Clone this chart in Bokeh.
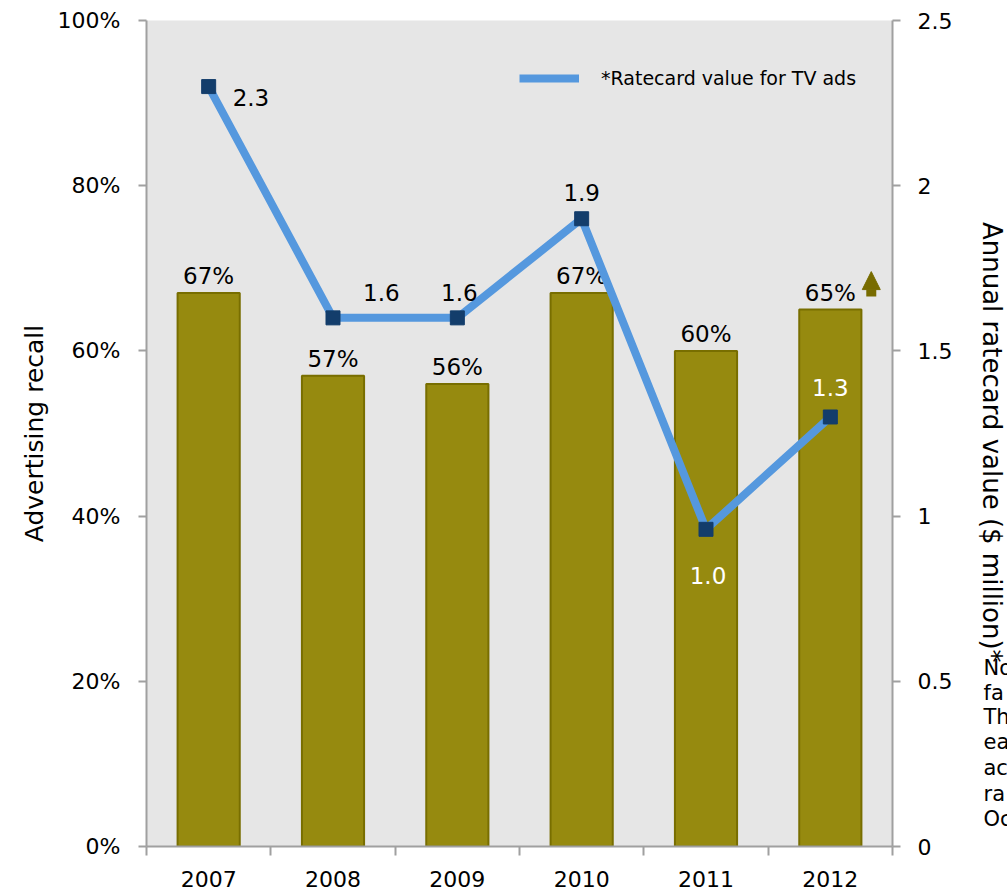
import numpy as np
from bokeh.plotting import figure
from bokeh.layouts import row
from bokeh.models import (Range1d, LinearAxis, FixedTicker, ColumnDataSource,
                          Legend, LegendItem, Arrow, NormalHead)
from bokeh.core.properties import value
from bokeh.embed import file_html
from bokeh.resources import INLINE

# ---------------- data ----------------
years = ["2007", "2008", "2009", "2010", "2011", "2012"]
recall_pct = [67, 57, 56, 67, 60, 65]
recall_labels = ["67%", "57%", "56%", "67%", "60%", "65%"]
ratecard_musd = [2.30, 1.60, 1.60, 1.90, 0.96, 1.30]
ratecard_labels = ["2.3", "1.6", "1.6", "1.9", "1.0", "1.3"]
recall_ticks = [0, 20, 40, 60, 80, 100]
recall_tick_labels = ["0%", "20%", "40%", "60%", "80%", "100%"]
ratecard_ticks = [0, 0.5, 1, 1.5, 2, 2.5]
ratecard_tick_labels = ["0", "0.5", "1", "1.5", "2", "2.5"]
legend_label = "*Ratecard value for TV ads"
left_title = "Advertising recall"
right_title = "Annual ratecard value ($ million)*"
note_lines = ["No", "fa", "Th", "ea", "ac", "ra", "Oc"]

# ---------------- styles ----------------
FONT = "DejaVu Sans"
BAR = "#968A0F"
BAR_EDGE = "#786E00"
LINE = "#5598DE"
MARK = "#133D6B"
ARROW_C = "#786C00"
AXIS = "#A0A0A0"
BG = "#E6E6E6"

PAGE_W, H = 1007, 893
W = 955                      # main figure width
SW = PAGE_W - W              # side strip width
FL, FT, FW, FH = 146, 20, 747, 826
n = len(years)
PX_X = FW / n
PX_Y = FH / 100.0

def dx(px):
    return px / PX_X

def dy(px):
    return px / PX_Y

# per-label style offsets for rate labels (pixels)
rate_dx = [24, 30, 2, 0, 2, 0]
rate_dy = [11, -25, -25, -26, 46, -29]
rate_align = ["left", "left", "center", "center", "center", "center"]
rate_color = ["black", "black", "black", "black", "white", "white"]

xs = [i + 0.5 for i in range(n)]

p = figure(width=W, height=H, output_backend="svg", toolbar_location=None,
           x_range=Range1d(0, n), y_range=Range1d(0, 100),
           min_border_left=FL, min_border_top=FT,
           min_border_right=W - FL - FW, min_border_bottom=H - FT - FH)
p.extra_y_ranges = {"rate": Range1d(0, 2.5)}
p.background_fill_color = BG
p.border_fill_color = "white"
p.outline_line_color = None
p.xgrid.visible = False
p.ygrid.visible = False

# x axis: tick marks at category boundaries (minor), year labels at centres
xa = p.xaxis[0]
xa.ticker = FixedTicker(ticks=xs, minor_ticks=list(range(n + 1)))
xa.major_label_overrides = {x: y for x, y in zip(xs, years)}
xa.major_tick_out = 0
xa.major_tick_in = 0
xa.minor_tick_out = 9
xa.minor_tick_in = 0
xa.minor_tick_line_color = AXIS
xa.minor_tick_line_width = 2
xa.axis_line_color = AXIS
xa.axis_line_width = 2
xa.major_label_text_font = FONT
xa.major_label_text_font_size = "22px"
xa.major_label_text_color = "black"
xa.major_label_standoff = 15

# left axis
ya = p.yaxis[0]
ya.ticker = FixedTicker(ticks=recall_ticks)
ya.major_label_overrides = {t: l for t, l in zip(recall_ticks, recall_tick_labels)}
ya.major_tick_out = 8
ya.major_tick_in = 0
ya.minor_tick_out = 0
ya.minor_tick_in = 0
ya.major_tick_line_color = AXIS
ya.major_tick_line_width = 2
ya.axis_line_color = AXIS
ya.axis_line_width = 2
ya.major_label_standoff = 18
ya.major_label_text_font = FONT
ya.major_label_text_font_size = "22px"
ya.major_label_text_color = "black"
ya.axis_label = left_title
ya.axis_label_text_font = FONT
ya.axis_label_text_font_size = "25px"
ya.axis_label_text_font_style = "normal"
ya.axis_label_text_color = "black"
ya.axis_label_standoff = 6

# right axis
ra = LinearAxis(y_range_name="rate", ticker=FixedTicker(ticks=ratecard_ticks))
ra.major_label_overrides = {t: l for t, l in zip(ratecard_ticks, ratecard_tick_labels)}
ra.major_tick_out = 8
ra.major_tick_in = 0
ra.minor_tick_out = 0
ra.minor_tick_in = 0
ra.major_tick_line_color = AXIS
ra.major_tick_line_width = 2
ra.axis_line_color = AXIS
ra.axis_line_width = 2
ra.major_label_standoff = 17
ra.major_label_text_font = FONT
ra.major_label_text_font_size = "22px"
ra.major_label_text_color = "black"
p.add_layout(ra, "right")

# bars
bsrc = ColumnDataSource(dict(x=xs, top=recall_pct, lab=recall_labels))
p.vbar(x="x", top="top", bottom=0, width=0.5, source=bsrc,
       fill_color=BAR, line_color=BAR_EDGE, line_width=2)
p.text(x="x", y="top", text="lab", source=bsrc, text_align="center",
       text_baseline="alphabetic", y_offset=-17, text_font=value(FONT),
       text_font_size="23px", text_color="black")

# line + markers
lsrc = ColumnDataSource(dict(x=xs, y=ratecard_musd))
line_r = p.line(x="x", y="y", source=lsrc, y_range_name="rate",
                line_color=LINE, line_width=8)
p.scatter(x="x", y="y", source=lsrc, y_range_name="rate", marker="square",
          size=14, fill_color=MARK, line_color=MARK)

for align in ("left", "center"):
    idx = [i for i in range(n) if rate_align[i] == align]
    src = ColumnDataSource(dict(
        x=[xs[i] for i in idx], y=[ratecard_musd[i] for i in idx],
        t=[ratecard_labels[i] for i in idx], ox=[rate_dx[i] for i in idx],
        oy=[rate_dy[i] for i in idx], c=[rate_color[i] for i in idx]))
    p.text(x="x", y="y", text="t", source=src, y_range_name="rate",
           x_offset="ox", y_offset="oy", text_align=align,
           text_baseline="alphabetic", text_color="c",
           text_font=value(FONT), text_font_size="23px")

# legend
legend = Legend(items=[LegendItem(label=legend_label, renderers=[line_r])],
                location=(373, 757), padding=0, margin=0, spacing=0,
                glyph_width=60, glyph_height=20, label_height=20,
                label_standoff=22, label_text_font=FONT,
                label_text_font_size="19px", label_text_color="black",
                background_fill_alpha=0, border_line_alpha=0)
p.add_layout(legend)

# up arrow next to the 2012 recall label
ax = xs[-1] + dx(41)
p.add_layout(Arrow(end=NormalHead(size=18, fill_color=ARROW_C, line_color=ARROW_C),
                   x_start=ax, y_start=recall_pct[-1] + dy(13),
                   x_end=ax, y_end=recall_pct[-1] + dy(38),
                   line_color=ARROW_C, line_width=10))

# ---------------- side strip: right title + cut-off note ----------------
side = figure(width=SW, height=H, output_backend="svg", toolbar_location=None,
              x_range=Range1d(0, SW), y_range=Range1d(0, H),
              x_axis_type=None, y_axis_type=None,
              min_border_left=0, min_border_right=0, min_border_top=0,
              min_border_bottom=0)
side.outline_line_color = None
side.background_fill_color = "white"
side.border_fill_color = "white"
side.grid.visible = False

side.text(x=[991 - W], y=[H - 456], text=[right_title], angle=-np.pi / 2,
          text_align="center", text_baseline="middle", text_font=value(FONT),
          text_font_size="26px", text_color="black")

note_base = [700, 727, 753, 780, 808, 836, 863]
side.text(x=[983 - W] * len(note_lines), y=[H - b for b in note_base],
          text=note_lines, text_align="left", text_baseline="alphabetic",
          text_font=value(FONT), text_font_size="21px", text_color="black")

lay = row(p, side, spacing=0)
open("out.html", "w").write(file_html(lay, INLINE))
